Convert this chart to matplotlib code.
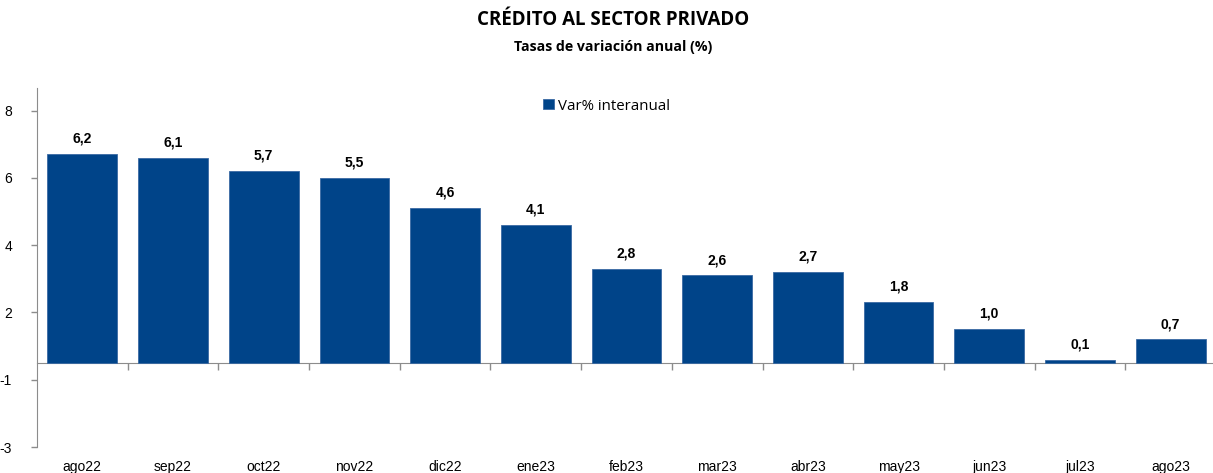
import numpy as np
import matplotlib.pyplot as plt
from matplotlib.ticker import FixedLocator

# data
meses = ['ago22', 'sep22', 'oct22', 'nov22', 'dic22', 'ene23', 'feb23',
         'mar23', 'abr23', 'may23', 'jun23', 'jul23', 'ago23']
var_anual = [6.2, 6.1, 5.7, 5.5, 4.6, 4.1, 2.8, 2.6, 2.7, 1.8, 1.0, 0.1, 0.7]
# odd excel axis: ticks at -2.5, -0.5, ... shown rounded
ytick_pos = [-2.5, -0.5, 1.5, 3.5, 5.5, 7.5]
ytick_lab = ['-3', '-1', '2', '4', '6', '8']

BLUE = '#004489'
GRAY = '#8c8c8c'

fig = plt.figure(figsize=(12.13, 4.73), dpi=100)
W, H = 1213, 473
ax = fig.add_axes([37 / W, 26 / H, 1179 / W, 359 / H])

x = np.arange(len(meses))
bars = ax.bar(x, var_anual, width=0.77, color=BLUE, edgecolor='#3a6aa3',
              linewidth=0.6, label='Var% interanual', zorder=3)

for xi, v in zip(x, var_anual):
    ax.annotate(f'{v:.1f}'.replace('.', ','), (xi, v), xytext=(0, 6),
                textcoords='offset points', ha='center', va='bottom',
                fontsize=10, fontweight='bold', family='Liberation Sans')

ax.set_xlim(-0.5, len(meses) - 0.5)
ax.set_ylim(-2.5, 8.17)

ax.set_yticks(ytick_pos)
ax.set_yticklabels(ytick_lab, family='Liberation Sans', fontsize=10)
ax.tick_params(axis='y', direction='out', length=4, color=GRAY, width=1, pad=14)

# x axis at zero, category separators as minor ticks
ax.spines['bottom'].set_position(('data', 0))
ax.spines['bottom'].set_color(GRAY)
ax.spines['left'].set_color(GRAY)
ax.spines['top'].set_visible(False)
ax.spines['right'].set_visible(False)
ax.set_xticks(x)
ax.set_xticklabels(meses, family='Liberation Sans', fontsize=10)
ax.xaxis.set_minor_locator(FixedLocator(np.arange(0.5, len(meses) - 1, 1.0)))
ax.tick_params(axis='x', which='major', length=0, pad=70)
ax.tick_params(axis='x', which='minor', length=5, color=GRAY, width=1)

leg = ax.legend(loc='center', bbox_to_anchor=(607 / W, 1 - 106 / H),
                bbox_transform=fig.transFigure, frameon=False,
                handlelength=0.7, handleheight=0.7, handletextpad=0.3,
                prop={'family': 'Open Sans', 'size': 10.8})

fig.text(613 / W, 0.957, 'CRÉDITO AL SECTOR PRIVADO', ha='center', va='center',
         fontsize=13.5, fontweight='bold', family='Open Sans')
fig.text(613 / W, 0.901, 'Tasas de variación anual (%)', ha='center', va='center',
         fontsize=10.2, fontweight='bold', family='Open Sans')

plt.savefig('out.png', dpi=100)
